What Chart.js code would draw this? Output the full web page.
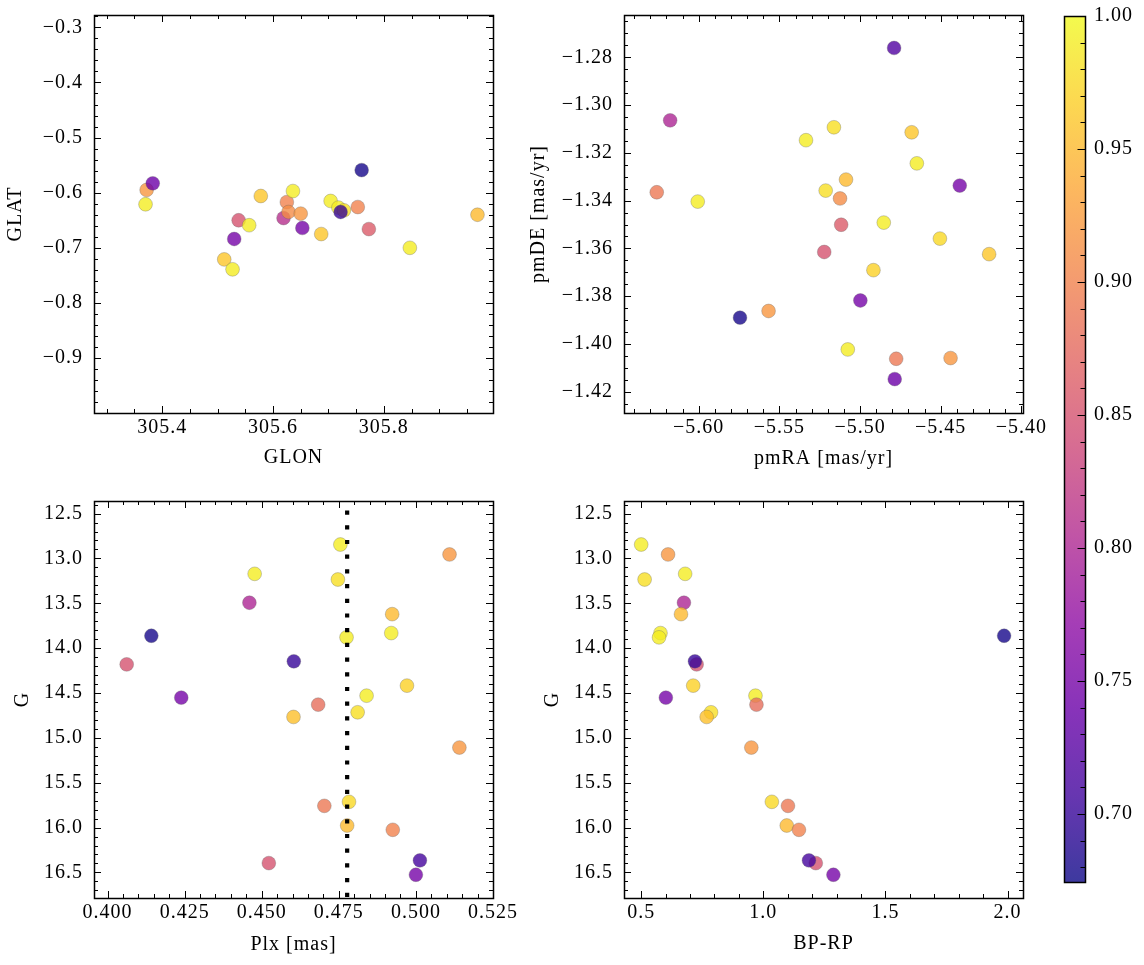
<!DOCTYPE html>
<html><head><meta charset="utf-8">
<script src="https://cdn.jsdelivr.net/npm/chart.js@4.4.0/dist/chart.umd.min.js"></script>
<style>
html,body{margin:0;padding:0;background:#fff;}
#fig{position:relative;width:1144px;height:965px;overflow:hidden;background:#fff;}
canvas{position:absolute;}
</style></head><body><div id="fig">
<canvas id="c1" width="520" height="482" style="left:0;top:0"></canvas>
<canvas id="c2" width="560" height="482" style="left:520px;top:0"></canvas>
<canvas id="c3" width="520" height="483" style="left:0;top:482px"></canvas>
<canvas id="c4" width="560" height="483" style="left:520px;top:482px"></canvas>
<canvas id="c5" width="104" height="965" style="left:1040px;top:0"></canvas>
</div>
<script>
// ---------------- data ----------------
// Panel 1: sky positions
const GLON = [305.370, 305.372, 305.383, 305.512, 305.527, 305.530, 305.538, 305.557, 305.578, 305.619, 305.625, 305.628, 305.636, 305.650, 305.653, 305.687, 305.704, 305.718, 305.728, 305.722, 305.753, 305.760, 305.773, 305.847, 305.969];
const GLAT = [-0.621, -0.595, -0.583, -0.721, -0.739, -0.684, -0.650, -0.659, -0.606, -0.646, -0.617, -0.635, -0.597, -0.638, -0.664, -0.675, -0.615, -0.627, -0.632, -0.635, -0.626, -0.559, -0.666, -0.700, -0.640];
const PROB_SKY = [0.99, 0.92, 0.74, 0.96, 0.99, 0.75, 0.85, 0.99, 0.96, 0.81, 0.90, 0.91, 0.99, 0.92, 0.75, 0.96, 0.99, 0.99, 0.98, 0.70, 0.90, 0.68, 0.86, 0.99, 0.95];
// Panel 2: proper motions
const PMRA = [-5.4789, -5.6177, -5.5162, -5.5335, -5.4680, -5.4648, -5.5087, -5.4382, -5.6260, -5.6006, -5.5213, -5.5124, -5.5117, -5.4853, -5.4505, -5.5222, -5.4200, -5.4917, -5.4998, -5.5567, -5.5744, -5.5076, -5.4776, -5.4439, -5.4785];
const PMDE = [-1.2761, -1.3064, -1.3093, -1.3147, -1.3114, -1.3244, -1.3312, -1.3337, -1.3365, -1.3404, -1.3358, -1.3391, -1.3501, -1.3492, -1.3559, -1.3615, -1.3624, -1.3691, -1.3818, -1.3862, -1.3890, -1.4023, -1.4062, -1.4059, -1.4147];
const PROB_PM = [0.72, 0.80, 0.98, 0.99, 0.96, 0.99, 0.95, 0.75, 0.89, 0.99, 0.98, 0.91, 0.86, 0.99, 0.975, 0.85, 0.96, 0.97, 0.75, 0.92, 0.68, 0.99, 0.89, 0.92, 0.74];
// Panels 3 & 4: parallax, G magnitude, colour
const PLX  = [0.4755, 0.5109, 0.4477, 0.4747, 0.4460, 0.4923, 0.4920, 0.4142, 0.4775, 0.4062, 0.4604, 0.4971, 0.4239, 0.4840, 0.4683, 0.4811, 0.4603, 0.5141, 0.4783, 0.4703, 0.4777, 0.4925, 0.4523, 0.5013, 0.5000];
const GMAG = [12.845, 12.956, 13.172, 13.235, 13.494, 13.621, 13.832, 13.862, 13.880, 14.181, 14.147, 14.418, 14.552, 14.530, 14.630, 14.715, 14.767, 15.108, 15.713, 15.758, 15.977, 16.025, 16.396, 16.366, 16.526];
const BPRP = [0.500, 0.610, 0.680, 0.514, 0.675, 0.663, 0.579, 1.986, 0.573, 0.727, 0.720, 0.713, 0.601, 0.968, 0.972, 0.786, 0.768, 0.951, 1.035, 1.101, 1.096, 1.146, 1.215, 1.187, 1.287];
const PROB_PHOT = [0.99, 0.92, 0.99, 0.98, 0.80, 0.95, 0.99, 0.68, 0.99, 0.85, 0.70, 0.97, 0.75, 0.99, 0.88, 0.98, 0.955, 0.92, 0.975, 0.89, 0.95, 0.90, 0.85, 0.71, 0.75];
const PLX_REF = 0.4777;   // dotted reference line
// colour scale
const VMIN = 0.6744, VMAX = 1.0;
// tick labels
const T1X = [305.4, 305.6, 305.8], T1Y = [-0.9, -0.8, -0.7, -0.6, -0.5, -0.4, -0.3];
const T2X = [-5.60, -5.55, -5.50, -5.45, -5.40], T2Y = [-1.42, -1.40, -1.38, -1.36, -1.34, -1.32, -1.30, -1.28];
const T3X = [0.400, 0.425, 0.450, 0.475, 0.500, 0.525], TGY = [12.5, 13.0, 13.5, 14.0, 14.5, 15.0, 15.5, 16.0, 16.5];
const T4X = [0.5, 1.0, 1.5, 2.0];
const TCB = [0.70, 0.75, 0.80, 0.85, 0.90, 0.95, 1.00];

// ---------------- styling helpers ----------------
Chart.defaults.font.family = '"Liberation Serif","DejaVu Serif",serif';
Chart.defaults.font.size = 20;
Chart.defaults.color = '#000';

const PLASMA = ['#0d0887','#41049d','#6a00a8','#8f0da4','#b12a90','#cc4778','#e16462','#f2844b','#fca636','#fcce25','#f0f921'];
const hex = h => [parseInt(h.slice(1,3),16), parseInt(h.slice(3,5),16), parseInt(h.slice(5,7),16)];
function plasma(t, a) {
  t = Math.max(0, Math.min(1, t));
  const s = t * 10, i = Math.min(9, Math.floor(s)), f = s - i;
  const c0 = hex(PLASMA[i]), c1 = hex(PLASMA[i+1]);
  const c = c0.map((v,k) => Math.round(v + (c1[k]-v)*f));
  return `rgba(${c[0]},${c[1]},${c[2]},${a})`;
}
const colorOf = p => plasma((p - VMIN) / (VMAX - VMIN), 0.8);
const fmt = d => v => Number(v).toFixed(d).replace('-', '\u2212');

const spacingPlugin = {
  id: 'spacing',
  beforeDraw(chart) { try { chart.ctx.letterSpacing = '1px'; } catch (e) {} }
};

const framePlugin = {
  id: 'frame',
  afterDraw(chart, args, o) {
    const ctx = chart.ctx, a = chart.chartArea;
    const xs = chart.scales.x, ys = chart.scales.y;
    ctx.save();
    ctx.strokeStyle = '#000';
    ctx.lineWidth = 1;
    const minorVals = (min, max, step, majors) => {
      const out = [];
      const lo = Math.min(min, max), hi = Math.max(min, max);
      for (let k = Math.ceil(lo/step - 1e-6); k*step <= hi + 1e-9; k++) {
        const v = k*step;
        if (!majors.some(m => Math.abs(m - v) < step*0.01)) out.push(v);
      }
      return out;
    };
    const line = (x1,y1,x2,y2) => { ctx.beginPath(); ctx.moveTo(x1,y1); ctx.lineTo(x2,y2); ctx.stroke(); };
    const ML = o.major || 7, mL = o.minor || 4;
    if (o.xMajor) {
      const xm = minorVals(xs.min, xs.max, o.xStep, o.xMajor);
      [[o.xMajor, ML], [xm, mL]].forEach(([vals, L]) => vals.forEach(v => {
        const px = Math.round(xs.getPixelForValue(v)) + 0.5;
        line(px, a.bottom, px, a.bottom - L);
        line(px, a.top, px, a.top + L);
      }));
    }
    const ym = minorVals(ys.min, ys.max, o.yStep, o.yMajor);
    [[o.yMajor, ML], [ym, mL]].forEach(([vals, L]) => vals.forEach(v => {
      const py = Math.round(ys.getPixelForValue(v)) + 0.5;
      line(a.right, py, a.right - L, py);
      if (!o.rightOnly) line(a.left, py, a.left + L, py);
    }));
    ctx.lineWidth = 1.5;
    ctx.strokeRect(Math.round(a.left)+0.5, Math.round(a.top)+0.5, Math.round(a.right-a.left), Math.round(a.bottom-a.top));
    ctx.restore();
  }
};

function scatterSet(xs, ys, ps) {
  return {
    type: 'scatter', order: 2,
    data: xs.map((x, i) => ({x: x, y: ys[i]})),
    backgroundColor: ps.map(colorOf),
    borderColor: 'rgba(100,100,100,0.55)',
    borderWidth: 0.6,
    pointRadius: 6.9,
    pointHoverRadius: 6.9
  };
}

function panel(id, c) {
  return new Chart(document.getElementById(id), {
    type: 'scatter',
    data: { datasets: c.datasets },
    options: {
      responsive: false, animation: false, events: [],
      layout: { padding: c.pad },
      plugins: { legend: {display: false}, tooltip: {enabled: false},
                 frame: { xMajor: c.xt, xStep: c.xStep, yMajor: c.yt, yStep: c.yStep } },
      scales: {
        x: { type: 'linear', min: c.xr[0], max: c.xr[1],
             grid: {display: false, drawTicks: false}, border: {display: false},
             ticks: {padding: 3, autoSkip: false, maxRotation: 0, callback: fmt(c.xd)},
             afterBuildTicks: s => { s.ticks = c.xt.map(v => ({value: v})); },
             afterFit: s => { s.height = c.xh; s.paddingLeft = 0; s.paddingRight = 0; },
             title: {display: true, text: c.xl, padding: {top: 0, bottom: c.xtb}} },
        y: { type: 'linear', min: c.yr[0], max: c.yr[1], reverse: !!c.rev,
             grid: {display: false, drawTicks: false}, border: {display: false},
             ticks: {padding: 11, autoSkip: false, callback: fmt(c.yd)},
             afterBuildTicks: s => { s.ticks = c.yt.map(v => ({value: v})); },
             afterFit: s => { s.width = c.yw; s.paddingTop = 0; s.paddingBottom = 0; },
             title: {display: true, text: c.yl, padding: {top: c.ytp, bottom: 0}} }
      }
    },
    plugins: [spacingPlugin, framePlugin]
  });
}

panel('c1', {
  datasets: [scatterSet(GLON, GLAT, PROB_SKY)],
  pad: {left: 0, top: 15, right: 27, bottom: 0},
  xr: [305.277, 305.997], yr: [-0.9997, -0.2776], xt: T1X, yt: T1Y, xStep: 0.05, yStep: 0.02,
  xd: 1, yd: 1, xl: 'GLON', yl: 'GLAT', xh: 69, yw: 94, xtb: 12, ytp: 4
});
panel('c2', {
  datasets: [scatterSet(PMRA, PMDE, PROB_PM)],
  pad: {left: 0, top: 15, right: 57, bottom: 0},
  xr: [-5.6463, -5.399], yr: [-1.4289, -1.2623], xt: T2X, yt: T2Y, xStep: 0.01, yStep: 0.005,
  xd: 2, yd: 2, xl: 'pmRA [mas/yr]', yl: 'pmDE [mas/yr]', xh: 69, yw: 104, xtb: 11, ytp: 7
});
panel('c3', {
  datasets: [
    { type: 'line', order: 1, data: [{x: PLX_REF, y: 12.36}, {x: PLX_REF, y: 16.785}],
      borderColor: '#000', borderWidth: 4.2, borderDash: [4.2, 10.5], borderDashOffset: 5.2,
      borderCapStyle: 'butt', pointRadius: 0, fill: false },
    scatterSet(PLX, GMAG, PROB_PHOT)
  ],
  pad: {left: 0, top: 19, right: 27, bottom: 0},
  xr: [0.3956, 0.525], yr: [12.36, 16.785], rev: true, xt: T3X, yt: TGY, xStep: 0.005, yStep: 0.1,
  xd: 3, yd: 1, xl: 'Plx [mas]', yl: 'G', xh: 67, yw: 94, xtb: 8, ytp: 11
});
panel('c4', {
  datasets: [scatterSet(BPRP, GMAG, PROB_PHOT)],
  pad: {left: 0, top: 19, right: 57, bottom: 0},
  xr: [0.4296, 2.0634], yr: [12.36, 16.785], rev: true, xt: T4X, yt: TGY, xStep: 0.1, yStep: 0.1,
  xd: 1, yd: 1, xl: 'BP-RP', yl: 'G', xh: 67, yw: 104, xtb: 9, ytp: 21
});

// colour bar
new Chart(document.getElementById('c5'), {
  type: 'bar',
  data: { labels: ['p'], datasets: [{
    data: [[VMIN, VMAX]], barPercentage: 1, categoryPercentage: 1, borderWidth: 0, borderSkipped: false,
    backgroundColor: ctx => {
      const ch = ctx.chart, ca = ch.chartArea;
      if (!ca) return colorOf(VMAX);
      const y = ch.scales.y;
      const g = ch.ctx.createLinearGradient(0, y.getPixelForValue(VMIN), 0, y.getPixelForValue(VMAX));
      for (let k = 0; k <= 10; k++) g.addColorStop(k/10, plasma(k/10, 0.8));
      return g;
    }
  }]},
  options: {
    responsive: false, animation: false, events: [],
    layout: { padding: {left: 24, top: 16, right: 0, bottom: 83} },
    plugins: { legend: {display: false}, tooltip: {enabled: false},
               frame: { yMajor: TCB, yStep: 0.01, rightOnly: true, major: 7.5, minor: 4.5 } },
    scales: {
      x: { display: false },
      y: { position: 'right', min: VMIN, max: VMAX,
           grid: {display: false, drawTicks: false}, border: {display: false},
           ticks: {padding: 9, autoSkip: false, callback: fmt(2)},
           afterBuildTicks: s => { s.ticks = TCB.map(v => ({value: v})); },
           afterFit: s => { s.width = 59; s.paddingTop = 0; s.paddingBottom = 0; } }
    }
  },
  plugins: [spacingPlugin, framePlugin]
});
</script></body></html>
